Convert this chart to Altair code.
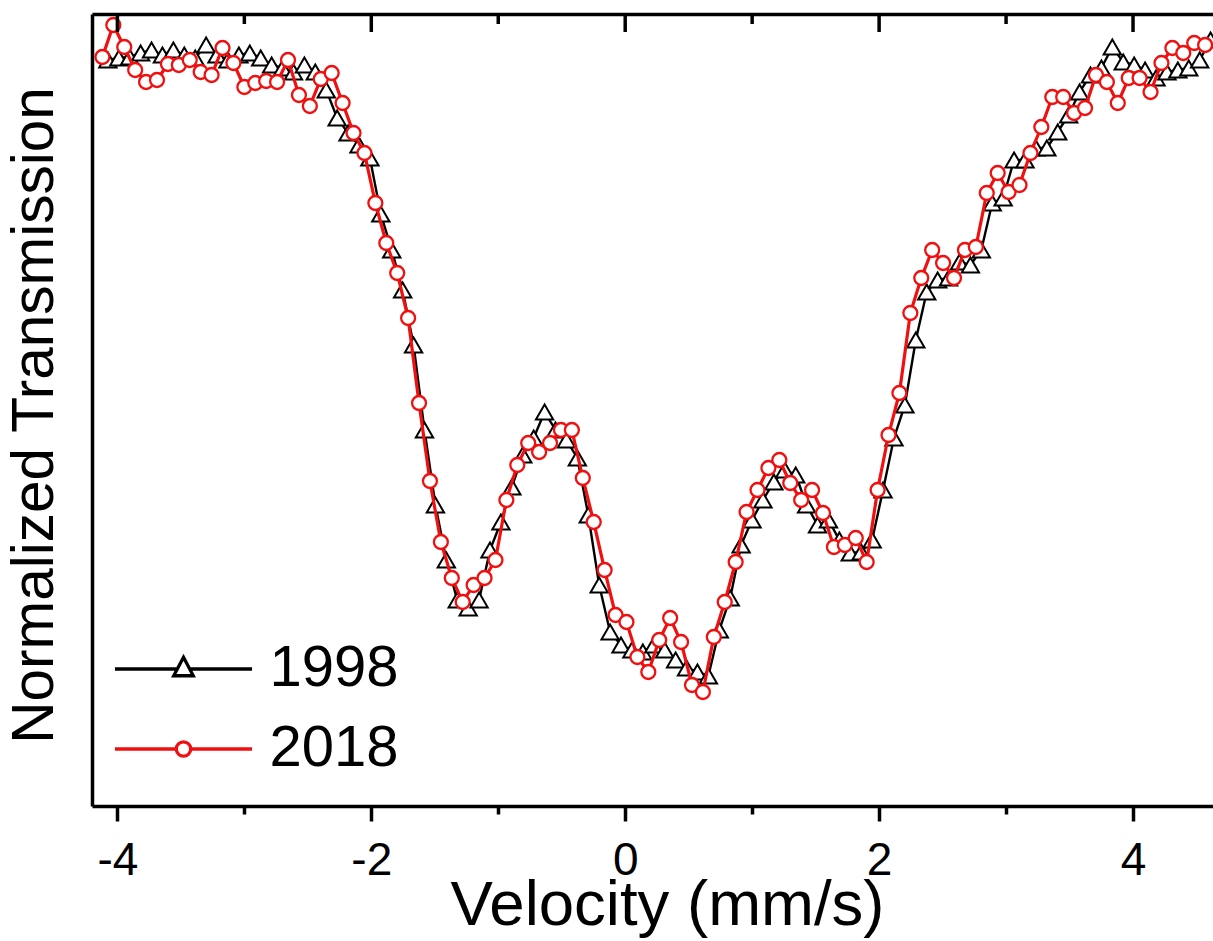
import altair as alt
import pandas as pd

# ---- data ----
vel_2018 = [-4.118, -4.032, -3.946, -3.860, -3.774, -3.688, -3.602, -3.516, -3.430, -3.344,
            -3.258, -3.172, -3.086, -3.000, -2.914, -2.828, -2.742, -2.656, -2.570, -2.484,
            -2.398, -2.312, -2.226, -2.140, -2.054, -1.968, -1.882, -1.796, -1.710, -1.624,
            -1.538, -1.452, -1.366, -1.280, -1.194, -1.108, -1.022, -0.936, -0.850, -0.764,
            -0.678, -0.592, -0.506, -0.420, -0.334, -0.248, -0.162, -0.076, 0.010, 0.096,
            0.182, 0.268, 0.354, 0.440, 0.526, 0.612, 0.698, 0.784, 0.870, 0.956,
            1.042, 1.128, 1.214, 1.300, 1.386, 1.472, 1.558, 1.644, 1.730, 1.816,
            1.902, 1.988, 2.074, 2.160, 2.246, 2.332, 2.418, 2.504, 2.590, 2.676,
            2.762, 2.848, 2.934, 3.020, 3.106, 3.192, 3.278, 3.364, 3.450, 3.536,
            3.622, 3.708, 3.794, 3.880, 3.966, 4.052, 4.138, 4.224, 4.310, 4.396,
            4.482, 4.568]
trans_2018 = [0.9957, 0.9989, 0.9967, 0.9944, 0.9932, 0.9934, 0.9950, 0.9949, 0.9954, 0.9942,
              0.9939, 0.9966, 0.9951, 0.9927, 0.9931, 0.9933, 0.9932, 0.9954, 0.9919, 0.9908,
              0.9935, 0.9941, 0.9911, 0.9881, 0.9861, 0.9811, 0.9771, 0.9741, 0.9696, 0.9611,
              0.9533, 0.9472, 0.9436, 0.9412, 0.9429, 0.9436, 0.9454, 0.9514, 0.9549, 0.9571,
              0.9562, 0.9571, 0.9584, 0.9584, 0.9536, 0.9492, 0.9444, 0.9399, 0.9392, 0.9357,
              0.9342, 0.9374, 0.9396, 0.9372, 0.9329, 0.9322, 0.9377, 0.9412, 0.9452, 0.9502,
              0.9524, 0.9546, 0.9554, 0.9531, 0.9514, 0.9524, 0.9501, 0.9467, 0.9469, 0.9476,
              0.9452, 0.9524, 0.9579, 0.9621, 0.9701, 0.9736, 0.9764, 0.9751, 0.9736, 0.9764,
              0.9767, 0.9821, 0.9841, 0.9822, 0.9829, 0.9861, 0.9887, 0.9917, 0.9917, 0.9901,
              0.9906, 0.9939, 0.9932, 0.9911, 0.9936, 0.9936, 0.9922, 0.9951, 0.9966, 0.9961,
              0.9971, 0.9969]

vel_1998 = [-4.075, -3.989, -3.903, -3.817, -3.731, -3.645, -3.559, -3.473, -3.387, -3.301,
            -3.215, -3.129, -3.043, -2.957, -2.871, -2.785, -2.699, -2.613, -2.527, -2.441,
            -2.355, -2.269, -2.183, -2.097, -2.011, -1.925, -1.839, -1.753, -1.667, -1.581,
            -1.495, -1.409, -1.323, -1.237, -1.151, -1.065, -0.979, -0.893, -0.807, -0.721,
            -0.635, -0.549, -0.463, -0.377, -0.291, -0.205, -0.119, -0.033, 0.053, 0.139,
            0.225, 0.311, 0.397, 0.483, 0.569, 0.655, 0.741, 0.827, 0.913, 0.999,
            1.085, 1.171, 1.257, 1.343, 1.429, 1.515, 1.601, 1.687, 1.773, 1.859,
            1.945, 2.031, 2.117, 2.203, 2.289, 2.375, 2.461, 2.547, 2.633, 2.719,
            2.805, 2.891, 2.977, 3.063, 3.149, 3.235, 3.321, 3.407, 3.493, 3.579,
            3.665, 3.751, 3.837, 3.923, 4.009, 4.095, 4.181, 4.267, 4.353, 4.439,
            4.525, 4.611]
trans_1998 = [0.9954, 0.9956, 0.9957, 0.9961, 0.9964, 0.9959, 0.9964, 0.9959, 0.9956, 0.9969,
              0.9959, 0.9954, 0.9959, 0.9961, 0.9956, 0.9949, 0.9946, 0.9942, 0.9949, 0.9942,
              0.9924, 0.9896, 0.9881, 0.9869, 0.9856, 0.9800, 0.9764, 0.9724, 0.9669, 0.9584,
              0.9509, 0.9454, 0.9414, 0.9406, 0.9414, 0.9464, 0.9492, 0.9527, 0.9559, 0.9576,
              0.9602, 0.9584, 0.9574, 0.9556, 0.9499, 0.9429, 0.9382, 0.9369, 0.9364, 0.9362,
              0.9369, 0.9364, 0.9354, 0.9346, 0.9342, 0.9338, 0.9384, 0.9416, 0.9469, 0.9494,
              0.9514, 0.9532, 0.9544, 0.9539, 0.9509, 0.9489, 0.9494, 0.9474, 0.9461, 0.9462,
              0.9474, 0.9524, 0.9576, 0.9609, 0.9674, 0.9722, 0.9734, 0.9736, 0.9752, 0.9749,
              0.9764, 0.9811, 0.9816, 0.9854, 0.9854, 0.9866, 0.9866, 0.9882, 0.9899, 0.9922,
              0.9939, 0.9946, 0.9967, 0.9952, 0.9949, 0.9944, 0.9936, 0.9942, 0.9944, 0.9946,
              0.9954, 0.9974]

series_names = ["1998", "2018"]
major_ticks = [-4, -2, 0, 2, 4]
minor_ticks = [-3, -1, 1, 3]

FONT = "Liberation Sans, Arial, sans-serif"
RED = "#f01010"
W, H = 1121, 792
Y_MIN, Y_MAX = 0.9208, 1.0

df98 = pd.DataFrame({"v": vel_1998, "t": trans_1998})
df18 = pd.DataFrame({"v": vel_2018, "t": trans_2018})
leg_df = pd.DataFrame({"series": series_names})
major_df = pd.DataFrame({"v": [float(v) for v in major_ticks]})
minor_df = pd.DataFrame({"v": [float(v) for v in minor_ticks]})

xscale = alt.Scale(domain=[-4.2, 4.63], nice=False, zero=False)
yscale = alt.Scale(domain=[Y_MIN, Y_MAX], nice=False, zero=False)
px = (Y_MAX - Y_MIN) / H  # one pixel in y data units (for tick lengths)

ax_bottom_major = alt.Axis(orient="bottom", values=major_ticks, tickSize=15, tickWidth=3.5,
                           tickColor="black", domain=True, domainWidth=3.5,
                           domainColor="black", grid=False,
                           labelExpr="'' + datum.value",
                           labelFont=FONT, labelFontSize=46, labelColor="black",
                           labelBaseline="alphabetic", labelPadding=53, labelFlush=False,
                           title="Velocity (mm/s)", titleFont=FONT, titleFontSize=63.5,
                           titleFontWeight="normal", titleColor="black",
                           titleBaseline="alphabetic", titleY=118, titleX=575)
ax_bottom_minor = alt.Axis(orient="bottom", values=minor_ticks, tickSize=8, tickWidth=3.5,
                           tickColor="black", domain=False, grid=False, labels=False,
                           title=None)
ax_top_border = alt.Axis(orient="top", values=major_ticks, tickSize=0, labels=False,
                         grid=False, title=None, domain=True, domainWidth=3.5,
                         domainColor="black")
ax_y = alt.Axis(ticks=False, labels=False, grid=False, domain=True, domainWidth=3.5,
                domainColor="black", title="Normalized Transmission", titleFont=FONT,
                titleFontSize=58.5, titleFontWeight="normal", titleColor="black",
                titleBaseline="alphabetic", titleX=-40, titleY=401)

# inward-pointing tick marks along the top frame, placed by the x and y scales
top_major = alt.Chart(major_df).mark_rule(color="black", strokeWidth=3.5).encode(
    x=alt.X("v:Q", scale=xscale, axis=None),
    y=alt.YDatum(Y_MAX, scale=yscale, axis=None),
    y2=alt.Y2Datum(Y_MAX - 18 * px),
)
top_minor = alt.Chart(minor_df).mark_rule(color="black", strokeWidth=3.5).encode(
    x=alt.X("v:Q", scale=xscale, axis=None),
    y=alt.YDatum(Y_MAX, scale=yscale, axis=None),
    y2=alt.Y2Datum(Y_MAX - 10 * px),
)
line98 = alt.Chart(df98).mark_line(color="black", strokeWidth=2.4).encode(
    x=alt.X("v:Q", scale=xscale, axis=ax_bottom_major),
    y=alt.Y("t:Q", scale=yscale, axis=ax_y),
)
pts98 = alt.Chart(df98).mark_point(shape="triangle-up", size=300, filled=True, fill="white",
                                   stroke="black", strokeWidth=2, opacity=1).encode(
    x=alt.X("v:Q", scale=xscale, axis=ax_bottom_minor),
    y=alt.Y("t:Q", scale=yscale, axis=None),
)
line18 = alt.Chart(df18).mark_line(color=RED, strokeWidth=3.2).encode(
    x=alt.X("v:Q", scale=xscale, axis=ax_top_border),
    y=alt.Y("t:Q", scale=yscale, axis=None),
)
pts18 = alt.Chart(df18).mark_point(shape="circle", size=195, filled=True, fill="white",
                                   stroke=RED, strokeWidth=2.3, opacity=1).encode(
    x=alt.X("v:Q", scale=xscale, axis=None),
    y=alt.Y("t:Q", scale=yscale, axis=None),
)

path98 = "M-4.57,0H-0.4M0.4,0H4.57M0,-0.78L0.65,0.45L-0.65,0.45Z"
path18 = "M-4.57,0H-0.48M0.48,0H4.57M0.48,0A0.48,0.48 0 1,1 -0.48,0A0.48,0.48 0 1,1 0.48,0Z"

legend = alt.Legend(orient="none", legendX=62.5, legendY=626, title=None, padding=0,
                    symbolSize=900, symbolStrokeWidth=3.3, symbolFillColor="white",
                    symbolOpacity=1, symbolOffset=0, labelFont=FONT, labelFontSize=58,
                    labelColor="black", labelOffset=57, rowPadding=22)

# invisible layer that only carries the legend (line + marker symbols)
dummy = alt.Chart(leg_df).mark_point(opacity=0, filled=False).encode(
    x=alt.XDatum(0.0, scale=xscale, axis=None),
    y=alt.YDatum(0.96, scale=yscale, axis=None),
    shape=alt.Shape("series:N", scale=alt.Scale(domain=series_names, range=[path98, path18]),
                    legend=legend),
    stroke=alt.Stroke("series:N", scale=alt.Scale(domain=series_names, range=["black", RED]),
                      legend=legend),
)

chart = alt.layer(line98, pts98, line18, pts18, dummy, top_major, top_minor).resolve_axis(
    x="independent", y="independent"
).properties(
    width=W, height=H,
    padding={"left": 92, "top": 14, "right": 0, "bottom": 135},
    autosize=alt.AutoSizeParams(type="none"),
).configure_view(stroke=None)

chart.save("out.html", embed_options={"renderer": "svg", "actions": False})
